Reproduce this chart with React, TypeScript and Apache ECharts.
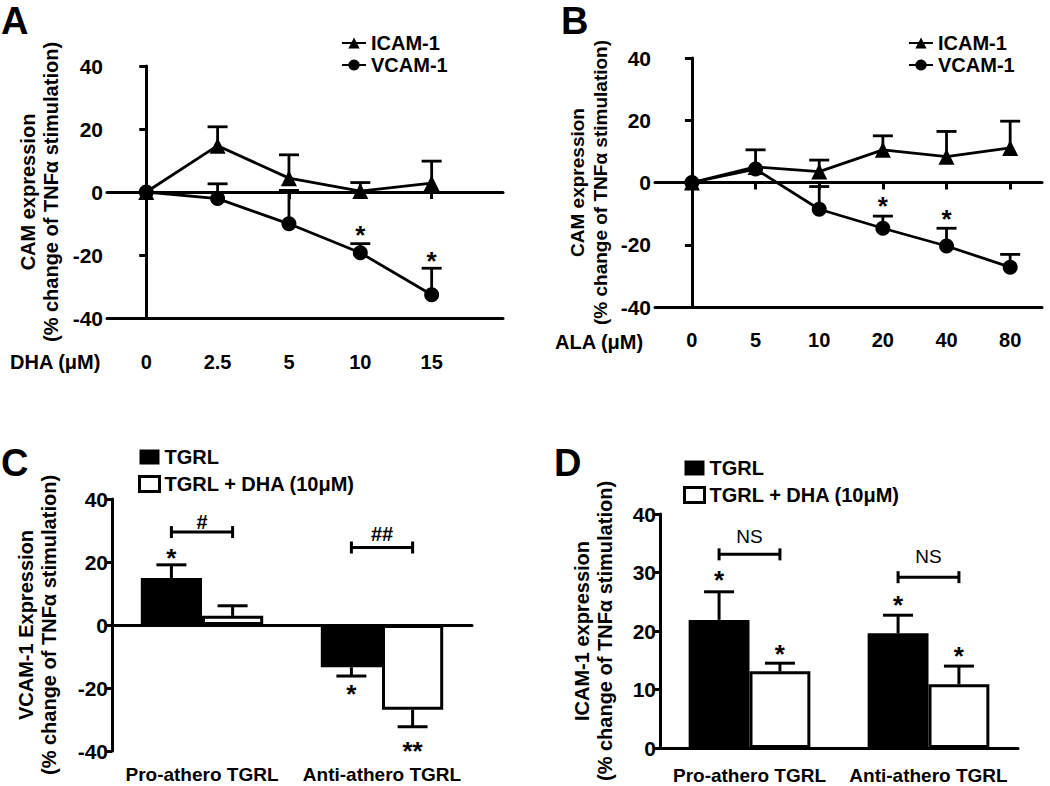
import React, { useEffect, useRef } from 'react';
import * as echarts from 'echarts';

// ---------- data ----------
const dhaLabels = ['0', '2.5', '5', '10', '15'];
const alaLabels = ['0', '5', '10', '20', '40', '80'];

const icamA = [0, 14.7, 4.4, 0.3, 2.8];
const icamAErrTop = [0, 20.7, 11.8, 3.0, 9.8];
const vcamA = [0, -2.1, -10.1, -19.3, -32.6];
const vcamAErrTop = [0, 2.6, 0.5, -16.4, -24.2];
const starsAIdx = [3, 4];
const starsAY = [-12, -20.4];

const icamB = [0, 5.0, 3.5, 10.5, 8.3, 11.1];
const icamBErrTop = [0, 10.5, 7.2, 15.0, 16.4, 19.7];
const vcamB = [0, 4.3, -8.6, -14.7, -20.4, -27.2];
const vcamBErrTop = [0, 4.3, -1.3, -10.8, -14.7, -23.1];
const starsBIdx = [3, 4];
const starsBY = [-6.1, -10.2];

const barCats = ['Pro-athero TGRL', 'Anti-athero TGRL'];
const tgrlC = [14.9, -13.4];
const tgrlCErr = [19.1, -16.2];
const dhaC = [2.9, -26.9];
const dhaCErr = [6.1, -32.3];
const starsC = [
  { cat: 0, side: -1, y: 23, text: '*' },
  { cat: 1, side: -1, y: -20.3, text: '*' },
  { cat: 1, side: 1, y: -38.3, text: '**' },
];
const bracketsC = [
  { cat: 0, y: 29.5, textY: 32.6, text: '#' },
  { cat: 1, y: 24.6, textY: 28.9, text: '##' },
];

const tgrlD = [21.9, 19.6];
const tgrlDErr = [26.7, 22.7];
const dhaD = [13.1, 10.9];
const dhaDErr = [14.5, 14.0];
const starsD = [
  { cat: 0, side: -1, y: 29.6, text: '*' },
  { cat: 0, side: 1, y: 17.0, text: '*' },
  { cat: 1, side: -1, y: 25.3, text: '*' },
  { cat: 1, side: 1, y: 16.5, text: '*' },
];
const bracketsD = [
  { cat: 0, y: 33.1, textY: 36.2, text: 'NS' },
  { cat: 1, y: 29.2, textY: 32.7, text: 'NS' },
];

const TGRL = 'TGRL';
const TGRL_DHA = 'TGRL + DHA (10μM)';

// ---------- helpers ----------
const FONT = "'Liberation Sans', Arial, Helvetica, sans-serif";
const BLACK = '#000';
const AXW = 3;
const BAR_FRAC = 0.17;
const LBL = 20;

const boldText = (size: number) => ({ fontFamily: FONT, fontWeight: 'bold', fontSize: size, color: BLACK });

function errLineData(vals: number[], tops: number[]) {
  const out: number[][] = [];
  vals.forEach((v, i) => {
    if (tops[i] !== v) out.push([i, v, tops[i]]);
  });
  return out;
}

function lineErrRender(params: any, api: any) {
  const p0 = api.coord([api.value(0), api.value(1)]);
  const p1 = api.coord([api.value(0), api.value(2)]);
  const h = 10;
  return {
    type: 'group',
    children: [
      { type: 'line', shape: { x1: p0[0], y1: p0[1], x2: p1[0], y2: p1[1] }, style: { stroke: BLACK, lineWidth: 2.8 } },
      { type: 'line', shape: { x1: p1[0] - h, y1: p1[1], x2: p1[0] + h, y2: p1[1] }, style: { stroke: BLACK, lineWidth: 2.8 } },
    ],
  };
}

function barErrRender(params: any, api: any) {
  const cat = api.value(0);
  const side = api.value(3);
  const bw = api.size([1, 0])[0];
  const c0 = api.coord([cat, api.value(1)]);
  const c1 = api.coord([cat, api.value(2)]);
  const x = c0[0] + side * bw * BAR_FRAC;
  const h = 15;
  return {
    type: 'group',
    children: [
      { type: 'line', shape: { x1: x, y1: c0[1], x2: x, y2: c1[1] }, style: { stroke: BLACK, lineWidth: 3 } },
      { type: 'line', shape: { x1: x - h, y1: c1[1], x2: x + h, y2: c1[1] }, style: { stroke: BLACK, lineWidth: 3 } },
    ],
  };
}

function starRenderLine(params: any, api: any) {
  const p = api.coord([api.value(0), api.value(1)]);
  return {
    type: 'text',
    x: p[0],
    y: p[1] + 5,
    style: { text: '*', fontFamily: FONT, fontWeight: 'bold', fontSize: 26, fill: BLACK, align: 'center', verticalAlign: 'middle' },
  };
}

function starRenderBar(params: any, api: any) {
  const cat = api.value(0);
  const side = api.value(1);
  const bw = api.size([1, 0])[0];
  const p = api.coord([cat, api.value(2)]);
  const txt = String(api.value(3));
  return {
    type: 'text',
    x: p[0] + side * bw * BAR_FRAC,
    y: p[1] + 5,
    style: { text: txt, fontFamily: FONT, fontWeight: 'bold', fontSize: 26, fill: BLACK, align: 'center', verticalAlign: 'middle' },
  };
}

function makeBracketRender(bold: boolean, size: number) {
  return function (params: any, api: any) {
    const cat = api.value(0);
    const bw = api.size([1, 0])[0];
    const p = api.coord([cat, api.value(1)]);
    const pt = api.coord([cat, api.value(2)]);
    const txt = String(api.value(3));
    const x1 = p[0] - bw * BAR_FRAC;
    const x2 = p[0] + bw * BAR_FRAC;
    const t = 6;
    const st = { stroke: BLACK, lineWidth: 3 };
    return {
      type: 'group',
      children: [
        { type: 'line', shape: { x1, y1: p[1], x2, y2: p[1] }, style: st },
        { type: 'line', shape: { x1, y1: p[1] - t, x2: x1, y2: p[1] + t }, style: st },
        { type: 'line', shape: { x1: x2, y1: p[1] - t, x2, y2: p[1] + t }, style: st },
        {
          type: 'text',
          x: p[0],
          y: pt[1],
          style: { text: txt, fontFamily: FONT, fontWeight: bold ? 'bold' : 'normal', fontSize: size, fill: BLACK, align: 'center', verticalAlign: 'middle' },
        },
      ],
    };
  };
}

function lineXAxes(gridIndex: number, min: number, max: number, labels: string[], margin: number) {
  const idx = labels.map((_, i) => i);
  return [
    {
      gridIndex, type: 'value', min, max, position: 'bottom',
      axisLine: { show: true, onZero: false, lineStyle: { color: BLACK, width: AXW } },
      axisTick: { show: false },
      splitLine: { show: false },
      axisLabel: {
        ...boldText(LBL), margin,
        customValues: idx,
        formatter: (v: number) => labels[Math.round(v)] ?? '',
      },
    },
    {
      gridIndex, type: 'value', min, max, position: 'bottom',
      axisLine: { show: true, onZero: true, lineStyle: { color: BLACK, width: AXW } },
      axisTick: { show: true, customValues: idx, length: 7, lineStyle: { color: BLACK, width: AXW } },
      splitLine: { show: false },
      axisLabel: { show: false },
    },
  ];
}

function yAxisDef(gridIndex: number, min: number, max: number, interval: number, name: string, nameGap: number, nameSize: number) {
  return {
    gridIndex, type: 'value', min, max, interval,
    name, nameLocation: 'middle', nameRotate: 90, nameGap,
    nameTextStyle: { ...boldText(nameSize), lineHeight: 23 },
    axisLine: { show: true, lineStyle: { color: BLACK, width: AXW } },
    axisTick: { show: true, length: 7, lineStyle: { color: BLACK, width: AXW } },
    splitLine: { show: false },
    axisLabel: { ...boldText(21), margin: 4 },
  };
}

function lineSeries(name: string, vals: number[], xi: number, yi: number, symbol: string, size: number) {
  return {
    name, type: 'line', xAxisIndex: xi, yAxisIndex: yi,
    data: vals.map((v, i) => [i, v]),
    symbol, symbolSize: size, showSymbol: true,
    lineStyle: { color: BLACK, width: 2.8 },
    itemStyle: { color: BLACK },
    z: 5,
  };
}

function barSeriesPair(xi: number, yi: number, tgrl: number[], dha: number[]) {
  return [
    {
      name: TGRL, type: 'bar', xAxisIndex: xi, yAxisIndex: yi, data: tgrl,
      barWidth: '34%', barGap: '0%',
      itemStyle: { color: BLACK, borderColor: BLACK, borderWidth: 3 },
    },
    {
      name: TGRL_DHA, type: 'bar', xAxisIndex: xi, yAxisIndex: yi, data: dha,
      barWidth: '34%', barGap: '0%',
      itemStyle: { color: '#fff', borderColor: BLACK, borderWidth: 3 },
    },
  ];
}

function barErrData(tgrl: number[], tgrlErr: number[], dha: number[], dhaErr: number[]) {
  const out: number[][] = [];
  tgrl.forEach((v, i) => out.push([i, v, tgrlErr[i], -1]));
  dha.forEach((v, i) => out.push([i, v, dhaErr[i], 1]));
  return out;
}

const cyName = 'CAM expression\n(% change of TNFα stimulation)';

function buildOption() {
  const lineLegend = (left: number, top: number) => ({
    left, top, orient: 'vertical', itemWidth: 24, itemHeight: 14, itemGap: 2,
    textStyle: boldText(LBL),
    data: ['ICAM-1', 'VCAM-1'],
  });
  const barLegend = (left: number, top: number) => ({
    left, top, orient: 'vertical', itemWidth: 20, itemHeight: 15, itemGap: 7,
    textStyle: boldText(LBL),
    data: [
      { name: TGRL, icon: 'rect', itemStyle: { color: BLACK, borderColor: BLACK, borderWidth: 0 } },
      { name: TGRL_DHA, icon: 'rect', itemStyle: { color: '#fff', borderColor: BLACK, borderWidth: 3 } },
    ],
  });

  const panelLetter = (t: string, x: number, y: number) => ({
    type: 'text', left: x, top: y,
    style: { text: t, fontFamily: FONT, fontWeight: 'bold', fontSize: 38, fill: BLACK },
  });
  const xName = (t: string, x: number, y: number) => ({
    type: 'text', left: x, top: y,
    style: { text: t, fontFamily: FONT, fontWeight: 'bold', fontSize: LBL, fill: BLACK },
  });

  const g = (left: number, top: number, width: number, height: number) => ({
    left, top, width, height, outerBoundsMode: 'none', containLabel: false,
  });

  return {
    animation: false,
    backgroundColor: '#fff',
    textStyle: { fontFamily: FONT },
    grid: [
      g(107, 66, 396, 252),
      g(655, 58, 387, 249),
      g(112, 499, 360, 252),
      g(660, 514, 358, 234),
    ],
    legend: [lineLegend(336, 28), lineLegend(903, 28), barLegend(133, 442), barLegend(678, 453)],
    xAxis: [
      ...lineXAxes(0, -0.55, 5.0, dhaLabels, 34),
      ...lineXAxes(1, -0.58, 5.5, alaLabels, 23),
      {
        gridIndex: 2, type: 'category', data: barCats, position: 'bottom',
        axisLine: { show: false, onZero: false },
        axisTick: { show: false },
        axisLabel: { ...boldText(19), margin: 14, interval: 0 },
      },
      {
        gridIndex: 2, type: 'category', data: barCats, position: 'bottom',
        axisLine: { show: true, onZero: true, lineStyle: { color: BLACK, width: AXW } },
        axisTick: { show: false },
        axisLabel: { show: false },
      },
      {
        gridIndex: 3, type: 'category', data: barCats, position: 'bottom',
        axisLine: { show: true, lineStyle: { color: BLACK, width: AXW } },
        axisTick: { show: false },
        axisLabel: { ...boldText(19), margin: 18, interval: 0 },
      },
    ],
    yAxis: [
      yAxisDef(0, -40, 40, 20, cyName, 45, 20),
      yAxisDef(1, -40, 40, 20, cyName, 43, 19),
      yAxisDef(2, -40, 40, 20, 'VCAM-1 Expression\n(% change of TNFα stimulation)', 52, 20),
      yAxisDef(3, 0, 40, 10, 'ICAM-1 expression\n(% change of TNFα stimulation)', 44, 20),
    ],
    series: [
      // Panel A
      { type: 'custom', xAxisIndex: 0, yAxisIndex: 0, renderItem: lineErrRender, data: errLineData(icamA, icamAErrTop), z: 3 },
      { type: 'custom', xAxisIndex: 0, yAxisIndex: 0, renderItem: lineErrRender, data: errLineData(vcamA, vcamAErrTop), z: 3 },
      lineSeries('ICAM-1', icamA, 0, 0, 'triangle', 16),
      lineSeries('VCAM-1', vcamA, 0, 0, 'circle', 15),
      { type: 'custom', xAxisIndex: 0, yAxisIndex: 0, renderItem: starRenderLine, data: starsAIdx.map((x, i) => [x, starsAY[i]]), z: 6 },
      // Panel B
      { type: 'custom', xAxisIndex: 2, yAxisIndex: 1, renderItem: lineErrRender, data: errLineData(icamB, icamBErrTop), z: 3 },
      { type: 'custom', xAxisIndex: 2, yAxisIndex: 1, renderItem: lineErrRender, data: errLineData(vcamB, vcamBErrTop), z: 3 },
      lineSeries('ICAM-1', icamB, 2, 1, 'triangle', 16),
      lineSeries('VCAM-1', vcamB, 2, 1, 'circle', 15),
      { type: 'custom', xAxisIndex: 2, yAxisIndex: 1, renderItem: starRenderLine, data: starsBIdx.map((x, i) => [x, starsBY[i]]), z: 6 },
      // Panel C
      ...barSeriesPair(4, 2, tgrlC, dhaC),
      { type: 'custom', xAxisIndex: 4, yAxisIndex: 2, renderItem: barErrRender, data: barErrData(tgrlC, tgrlCErr, dhaC, dhaCErr), z: 1 },
      { type: 'custom', xAxisIndex: 4, yAxisIndex: 2, renderItem: starRenderBar, data: starsC.map((s) => [s.cat, s.side, s.y, s.text]), z: 6 },
      { type: 'custom', xAxisIndex: 4, yAxisIndex: 2, renderItem: makeBracketRender(true, 20), data: bracketsC.map((b) => [b.cat, b.y, b.textY, b.text]), z: 6 },
      // Panel D
      ...barSeriesPair(6, 3, tgrlD, dhaD),
      { type: 'custom', xAxisIndex: 6, yAxisIndex: 3, renderItem: barErrRender, data: barErrData(tgrlD, tgrlDErr, dhaD, dhaDErr), z: 1 },
      { type: 'custom', xAxisIndex: 6, yAxisIndex: 3, renderItem: starRenderBar, data: starsD.map((s) => [s.cat, s.side, s.y, s.text]), z: 6 },
      { type: 'custom', xAxisIndex: 6, yAxisIndex: 3, renderItem: makeBracketRender(false, 19), data: bracketsD.map((b) => [b.cat, b.y, b.textY, b.text]), z: 6 },
    ],
    graphic: [
      panelLetter('A', 1, 2),
      panelLetter('B', 561, 2),
      panelLetter('C', 1, 444),
      panelLetter('D', 554, 444),
      xName('DHA (μM)', 10, 352),
      xName('ALA (μM)', 555, 332),
    ],
  };
}

export default function App() {
  const ref = useRef<HTMLDivElement>(null);
  useEffect(() => {
    document.body.style.margin = '0';
    if (!ref.current) return;
    const chart = echarts.init(ref.current, undefined, { renderer: 'svg' });
    chart.setOption(buildOption() as any);
    return () => chart.dispose();
  }, []);
  return <div ref={ref} style={{ width: 1050, height: 786 }} />;
}
